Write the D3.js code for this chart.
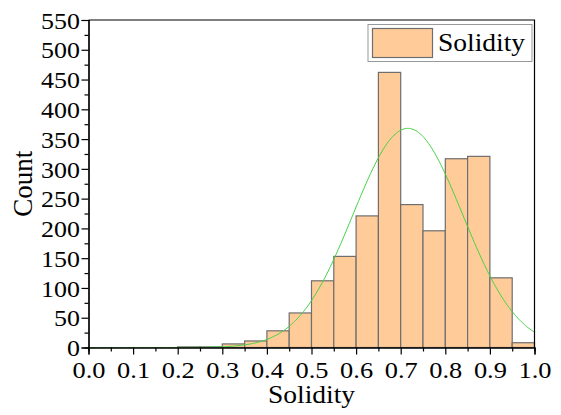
<!DOCTYPE html>
<html><head><meta charset="utf-8">
<script src="https://cdn.jsdelivr.net/npm/d3@7"></script>
<style>body{margin:0;background:#fff}svg{display:block}text{font-family:"Liberation Serif","Times New Roman",serif;fill:#000}</style>
</head><body><svg id="c" width="561" height="415" font-family="Liberation Serif, serif"></svg>
<script>
// Histogram bins (left edges, width 0.05) and counts
const binStarts = [0.20,0.25,0.30,0.35,0.40,0.45,0.50,0.55,0.60,0.65,0.70,0.75,0.80,0.85,0.90,0.95];
const counts    = [1,1,6,11,28,58,112,153,221,462,240,196,317,321,117,8];
const binWidth = 0.05;
// Normal fit parameters
const fitMean = 0.716, fitSigma = 0.123, fitPeak = 368;
const xTicks = [0.0,0.1,0.2,0.3,0.4,0.5,0.6,0.7,0.8,0.9,1.0];
const yTicks = [0,50,100,150,200,250,300,350,400,450,500,550];
const seriesName = "Solidity";

const svg = d3.select("#c");
const L=88.5, R=534.5, T=20, B=347.5;
const x = d3.scaleLinear().domain([0,1]).range([L,R]);
const y = d3.scaleLinear().domain([0,550]).range([B,T]);

// bars
svg.append("g").selectAll("rect").data(binStarts.map((s,i)=>({s,c:counts[i]}))).join("rect")
  .attr("x",d=>x(d.s)).attr("width",d=>x(d.s+binWidth)-x(d.s))
  .attr("y",d=>y(d.c)).attr("height",d=>y(0)-y(d.c))
  .attr("fill","#FFCC99").attr("stroke","#6e6e6e").attr("stroke-width",1.2);

// fit curve
const xs = d3.range(0,1.0001,0.0025);
const line = d3.line().x(d=>x(d)).y(d=>y(fitPeak*Math.exp(-((d-fitMean)**2)/(2*fitSigma*fitSigma))));
svg.append("path").datum(xs).attr("d",line).attr("fill","none").attr("stroke","#45d145").attr("stroke-width",1);

// frame
svg.append("path").attr("d",`M${L},${T}H${R}V${B}`).attr("fill","none").attr("stroke","#000").attr("stroke-width",1.2);

// axes
const xa = svg.append("g").attr("transform",`translate(0,${B})`)
  .call(d3.axisBottom(x).tickValues(xTicks).tickFormat(d3.format(".1f")).tickSize(7).tickPadding(4));
const xm = svg.append("g").attr("transform",`translate(0,${B})`)
  .call(d3.axisBottom(x).tickValues(d3.range(0.05,1,0.1)).tickFormat(()=>"").tickSize(4));
const ya = svg.append("g").attr("transform",`translate(${L},0)`)
  .call(d3.axisLeft(y).tickValues(yTicks).tickSize(7).tickPadding(1));
const ym = svg.append("g").attr("transform",`translate(${L},0)`)
  .call(d3.axisLeft(y).tickValues(d3.range(25,550,50)).tickFormat(()=>"").tickSize(4));
[xa,xm,ya,ym].forEach(g=>{
  g.attr("font-family","Liberation Serif, serif").attr("font-size",24);
  g.selectAll("path").attr("stroke","#000").attr("stroke-width",1.2);
  g.selectAll("line").attr("stroke","#000").attr("stroke-width",1.2);
  g.selectAll("text").attr("fill","#000");
});
xa.selectAll("text").attr("dy","0.8em").attr("transform","scale(1.1,1)");
ya.selectAll("text").attr("dy","0.34em").attr("transform","scale(1.08,1)");

// axis titles
svg.append("text").attr("transform",`translate(${(L+R)/2},403) scale(1.1,1)`).attr("text-anchor","middle").attr("font-size",25).text("Solidity");
svg.append("text").attr("transform",`translate(32,${(T+B)/2}) rotate(-90)`).attr("text-anchor","middle").attr("font-size",27).text("Count");

// legend
const lg = svg.append("g");
lg.append("rect").attr("x",368).attr("y",24.5).attr("width",164).attr("height",37).attr("fill","#fff").attr("stroke","#999").attr("stroke-width",1);
lg.append("rect").attr("x",372.5).attr("y",28.5).attr("width",60).attr("height",29).attr("fill","#FFCC99").attr("stroke","#6e6e6e").attr("stroke-width",1.2);
lg.append("text").attr("transform","translate(438,51) scale(1.1,1)").attr("font-size",25).text(seriesName);
</script></body></html>
